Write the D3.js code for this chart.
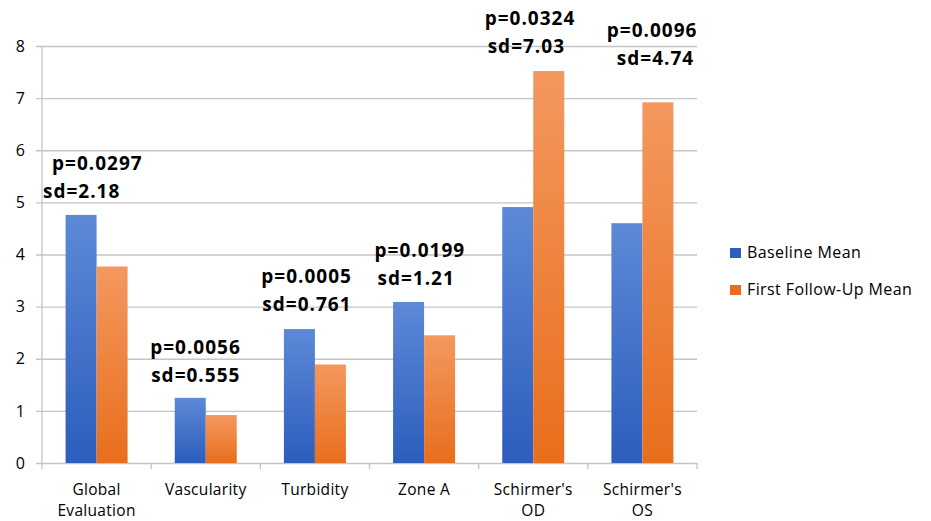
<!DOCTYPE html>
<html>
<head>
<meta charset="utf-8">
<script src="https://cdn.jsdelivr.net/npm/d3@7"></script>
<style>
  body { margin: 0; background: #fff; }
  text { font-family: "Open Sans", sans-serif; fill: #000; }
</style>
</head>
<body>
<div id="chart"></div>
<script>
// chart data
const categories = ["Global Evaluation", "Vascularity", "Turbidity", "Zone A", "Schirmer's OD", "Schirmer's OS"];
const categoryLines = [["Global", "Evaluation"], ["Vascularity"], ["Turbidity"], ["Zone A"], ["Schirmer's", "OD"], ["Schirmer's", "OS"]];
const seriesNames = ["Baseline Mean", "First Follow-Up Mean"];
const baselineMean = [4.76, 1.25, 2.57, 3.09, 4.91, 4.60];
const followUpMean = [3.77, 0.92, 1.89, 2.45, 7.52, 6.92];
const pValues = ["p=0.0297", "p=0.0056", "p=0.0005", "p=0.0199", "p=0.0324", "p=0.0096"];
const sdValues = ["sd=2.18", "sd=0.555", "sd=0.761", "sd=1.21", "sd=7.03", "sd=4.74"];
const yTicks = [0, 1, 2, 3, 4, 5, 6, 7, 8];

// annotation placement (pixels): left offset from band start, sd line shift, lift above taller bar
const annLeft = [10, -1, 1, 5, 6, 19];
const annSdShift = [-9, 1, 1, 3, 3, 10];
const annLift = [17, 16, 18, 17, 18, 37];

const colors = {
  "Baseline Mean": ["#5d89d7", "#2d5dbd"],
  "First Follow-Up Mean": ["#f4985f", "#e86e1c"]
};

const width = 931;
const height = 521;
const plot = { left: 42, right: 697, top: 46, bottom: 463 };

const rows = categories.map((c, i) => ({
  category: c,
  values: [
    { series: seriesNames[0], value: baselineMean[i] },
    { series: seriesNames[1], value: followUpMean[i] }
  ]
}));

const svg = d3.select("#chart")
  .append("svg")
  .attr("width", width)
  .attr("height", height);

svg.append("rect").attr("width", width).attr("height", height).attr("fill", "#fff");

const defs = svg.append("defs");
seriesNames.forEach((s, i) => {
  const g = defs.append("linearGradient")
    .attr("id", "grad" + i)
    .attr("x1", 0).attr("y1", 0).attr("x2", 0).attr("y2", 1);
  g.append("stop").attr("offset", "0%").attr("stop-color", colors[s][0]);
  g.append("stop").attr("offset", "100%").attr("stop-color", colors[s][1]);
});

const x = d3.scaleBand()
  .domain(categories)
  .range([plot.left, plot.right])
  .padding(0);

const bw = x.bandwidth();
const x1 = d3.scaleBand()
  .domain(seriesNames)
  .range([bw * 0.216, bw * 0.784]);

const y = d3.scaleLinear()
  .domain([0, 8])
  .range([plot.bottom, plot.top]);

// gridlines + y tick labels
const yAxis = d3.axisLeft(y)
  .tickValues(yTicks)
  .tickSize(-(plot.right - plot.left + 6))
  .tickPadding(11)
  .tickFormat(d3.format("d"));

const yg = svg.append("g")
  .attr("transform", `translate(${plot.left - 6}, 0)`)
  .call(yAxis);
yg.select(".domain").remove();
yg.selectAll(".tick line").attr("stroke", "#c4c4c4").attr("stroke-width", 1.3);
yg.selectAll(".tick text")
  .style("font-size", "16px")
  .style("font-family", "'Open Sans', sans-serif")
  .attr("fill", "#000");

// y axis line
svg.append("line")
  .attr("x1", plot.left).attr("x2", plot.left)
  .attr("y1", plot.top).attr("y2", plot.bottom + 6)
  .attr("stroke", "#c4c4c4").attr("stroke-width", 1.3);

// category boundary ticks
const bounds = categories.map(c => x(c)).concat([x.range()[1]]);
svg.selectAll("line.bound")
  .data(bounds.slice(1))
  .enter()
  .append("line")
  .attr("class", "bound")
  .attr("x1", d => d).attr("x2", d => d)
  .attr("y1", plot.bottom).attr("y2", plot.bottom + 6)
  .attr("stroke", "#c4c4c4").attr("stroke-width", 1.3);

// bars
const groups = svg.selectAll("g.cat")
  .data(rows)
  .enter()
  .append("g")
  .attr("class", "cat")
  .attr("transform", d => `translate(${x(d.category)}, 0)`);

groups.selectAll("rect")
  .data(d => d.values)
  .enter()
  .append("rect")
  .attr("x", d => x1(d.series))
  .attr("y", d => y(d.value))
  .attr("width", x1.bandwidth())
  .attr("height", d => y(0) - y(d.value))
  .attr("fill", d => `url(#grad${seriesNames.indexOf(d.series)})`);

// category labels
const labels = svg.selectAll("text.cat-label")
  .data(categoryLines)
  .enter()
  .append("text")
  .attr("class", "cat-label")
  .attr("text-anchor", "middle")
  .style("font-size", "15.5px")
  .style("letter-spacing", "0.3px")
  .attr("x", (d, i) => x(categories[i]) + bw / 2)
  .attr("y", 494.5);

labels.selectAll("tspan")
  .data(d => d)
  .enter()
  .append("tspan")
  .attr("x", function () { return d3.select(this.parentNode).attr("x"); })
  .attr("dy", (d, i) => i === 0 ? 0 : 21.5)
  .text(d => d);

// p / sd annotations
const ann = svg.selectAll("g.ann")
  .data(categories)
  .enter()
  .append("g")
  .attr("class", "ann")
  .attr("transform", (c, i) => {
    const top = y(Math.max(baselineMean[i], followUpMean[i]));
    return `translate(${x(c) + annLeft[i]}, ${top - annLift[i]})`;
  });

ann.append("text")
  .attr("x", 0)
  .attr("y", -28)
  .style("font-size", "19px")
  .style("font-weight", "700")
  .style("letter-spacing", "1px")
  .text((c, i) => pValues[i]);

ann.append("text")
  .attr("x", (c, i) => annSdShift[i])
  .attr("y", 0)
  .style("font-size", "19px")
  .style("font-weight", "700")
  .style("letter-spacing", "1px")
  .text((c, i) => sdValues[i]);

// legend
const legend = svg.append("g")
  .attr("transform", "translate(730, 248)");

const li = legend.selectAll("g")
  .data(seriesNames)
  .enter()
  .append("g")
  .attr("transform", (d, i) => `translate(0, ${i * 37})`);

li.append("rect")
  .attr("width", 11)
  .attr("height", 10)
  .attr("fill", d => colors[d][1]);

li.append("text")
  .attr("x", 17)
  .attr("y", 10)
  .style("font-size", "16px")
  .style("letter-spacing", "0.4px")
  .text(d => d);
</script>
</body>
</html>
